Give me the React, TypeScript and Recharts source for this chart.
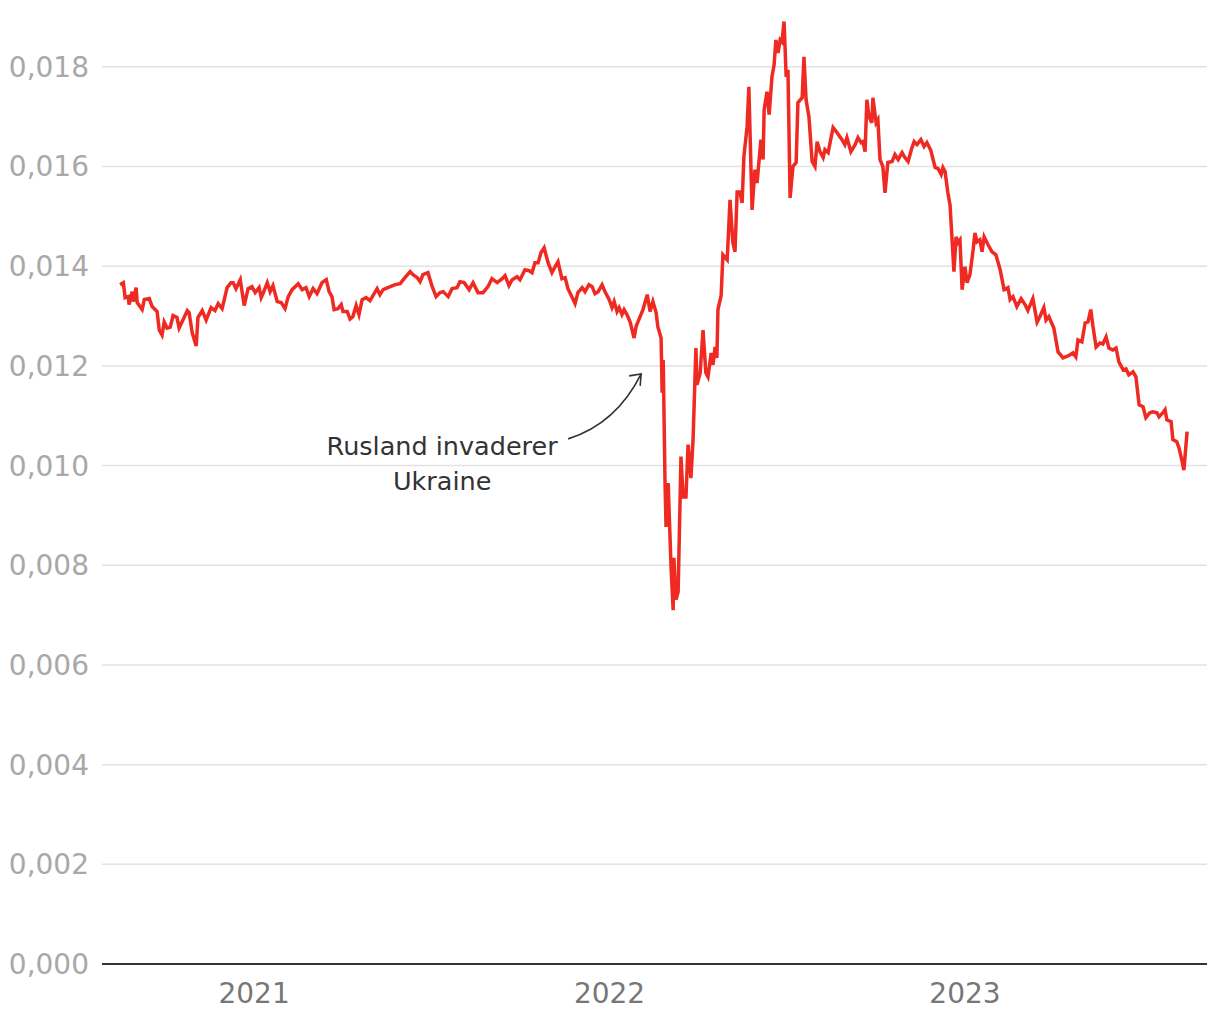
import { LineChart, Line, XAxis, YAxis, CartesianGrid, ReferenceDot } from 'recharts';

// Time in fractional years, exchange rate
const years = [
  2020.623, 2020.632, 2020.637, 2020.646, 2020.648, 2020.657, 2020.66, 2020.668, 2020.671, 2020.685,
  2020.691, 2020.705, 2020.713, 2020.727, 2020.733, 2020.741, 2020.747, 2020.755, 2020.764, 2020.772,
  2020.783, 2020.789, 2020.797, 2020.812, 2020.817, 2020.826, 2020.837, 2020.842, 2020.854, 2020.865,
  2020.879, 2020.89, 2020.899, 2020.91, 2020.924, 2020.935, 2020.941, 2020.949, 2020.961, 2020.972,
  2020.983, 2020.994, 2021.003, 2021.014, 2021.02, 2021.025, 2021.037, 2021.045, 2021.053, 2021.065,
  2021.076, 2021.087, 2021.096, 2021.107, 2021.124, 2021.135, 2021.146, 2021.155, 2021.166, 2021.177,
  2021.191, 2021.203, 2021.211, 2021.219, 2021.225, 2021.236, 2021.245, 2021.25, 2021.262, 2021.27,
  2021.278, 2021.287, 2021.295, 2021.304, 2021.315, 2021.326, 2021.346, 2021.354, 2021.363, 2021.383,
  2021.397, 2021.411, 2021.422, 2021.439, 2021.447, 2021.459, 2021.467, 2021.475, 2021.489, 2021.501,
  2021.512, 2021.523, 2021.532, 2021.546, 2021.557, 2021.571, 2021.579, 2021.591, 2021.605, 2021.616,
  2021.63, 2021.644, 2021.658, 2021.669, 2021.684, 2021.698, 2021.706, 2021.717, 2021.726, 2021.74,
  2021.748, 2021.762, 2021.774, 2021.782, 2021.79, 2021.799, 2021.807, 2021.816, 2021.827, 2021.838,
  2021.847, 2021.855, 2021.866, 2021.875, 2021.883, 2021.895, 2021.903, 2021.911, 2021.923, 2021.931,
  2021.942, 2021.951, 2021.959, 2021.968, 2021.979, 2021.987, 2021.999, 2022.007, 2022.013, 2022.021,
  2022.027, 2022.035, 2022.041, 2022.049, 2022.058, 2022.069, 2022.075, 2022.086, 2022.094, 2022.106,
  2022.114, 2022.122, 2022.131, 2022.136, 2022.145, 2022.148, 2022.151, 2022.156, 2022.159, 2022.165,
  2022.173, 2022.179, 2022.181, 2022.187, 2022.193, 2022.201, 2022.207, 2022.215, 2022.221, 2022.229,
  2022.235, 2022.243, 2022.246, 2022.255, 2022.263, 2022.271, 2022.277, 2022.286, 2022.291, 2022.297,
  2022.302, 2022.305, 2022.314, 2022.319, 2022.331, 2022.339, 2022.347, 2022.353, 2022.359, 2022.367,
  2022.373, 2022.378, 2022.387, 2022.392, 2022.401, 2022.409, 2022.415, 2022.426, 2022.432, 2022.435,
  2022.443, 2022.449, 2022.457, 2022.463, 2022.468, 2022.474, 2022.48, 2022.485, 2022.491, 2022.497,
  2022.502, 2022.508, 2022.516, 2022.525, 2022.53, 2022.542, 2022.547, 2022.553, 2022.561, 2022.57,
  2022.578, 2022.584, 2022.592, 2022.601, 2022.606, 2022.615, 2022.629, 2022.64, 2022.654, 2022.662,
  2022.668, 2022.679, 2022.691, 2022.699, 2022.708, 2022.713, 2022.719, 2022.724, 2022.73, 2022.738,
  2022.741, 2022.75, 2022.755, 2022.761, 2022.769, 2022.775, 2022.783, 2022.795, 2022.803, 2022.812,
  2022.823, 2022.831, 2022.84, 2022.851, 2022.857, 2022.865, 2022.876, 2022.885, 2022.893, 2022.904,
  2022.916, 2022.924, 2022.933, 2022.938, 2022.944, 2022.952, 2022.958, 2022.969, 2022.975, 2022.98,
  2022.986, 2022.992, 2023.0, 2023.006, 2023.014, 2023.023, 2023.028, 2023.034, 2023.042, 2023.048,
  2023.054, 2023.065, 2023.076, 2023.087, 2023.099, 2023.11, 2023.121, 2023.127, 2023.135, 2023.146,
  2023.158, 2023.169, 2023.177, 2023.191, 2023.203, 2023.211, 2023.222, 2023.228, 2023.236, 2023.25,
  2023.262, 2023.276, 2023.29, 2023.304, 2023.312, 2023.318, 2023.329, 2023.338, 2023.346, 2023.354,
  2023.36, 2023.369, 2023.38, 2023.388, 2023.397, 2023.405, 2023.416, 2023.425, 2023.433, 2023.445,
  2023.453, 2023.461, 2023.473, 2023.481, 2023.49, 2023.501, 2023.509, 2023.52, 2023.529, 2023.54,
  2023.546, 2023.557, 2023.563, 2023.568, 2023.58, 2023.585, 2023.596, 2023.602, 2023.61, 2023.616,
  2023.625,
];

const rates = [
  0.01363, 0.01367, 0.01337, 0.01339, 0.01323, 0.01349, 0.01329, 0.01357, 0.01327, 0.01313,
  0.01333, 0.01335, 0.01319, 0.01309, 0.01272, 0.01262, 0.01288, 0.01276, 0.01278, 0.01301,
  0.01297, 0.01276, 0.01288, 0.01311, 0.01307, 0.01266, 0.0124, 0.01297, 0.01311, 0.01292,
  0.01317, 0.01311, 0.01325, 0.01315, 0.01357, 0.01367, 0.01367, 0.01355, 0.01373, 0.01321,
  0.01355, 0.01359, 0.01347, 0.01357, 0.01337, 0.01345, 0.01367, 0.01349, 0.01361, 0.01329,
  0.01327, 0.01315, 0.01339, 0.01353, 0.01365, 0.01353, 0.01357, 0.01339, 0.01355, 0.01345,
  0.01367, 0.01373, 0.01349, 0.01339, 0.01313, 0.01315, 0.01323, 0.01309, 0.01309, 0.01294,
  0.01299, 0.01321, 0.01303, 0.01333, 0.01337, 0.01331, 0.01355, 0.01343, 0.01353, 0.01359,
  0.01363, 0.01365, 0.01375, 0.01389, 0.01383, 0.01377, 0.01369, 0.01383, 0.01387, 0.01359,
  0.01339, 0.01347, 0.01349, 0.01339, 0.01355, 0.01357, 0.01369, 0.01367, 0.01353, 0.01367,
  0.01347, 0.01347, 0.01359, 0.01375, 0.01367, 0.01375, 0.01381, 0.01361, 0.01373, 0.01379,
  0.01373, 0.01393, 0.01391, 0.01387, 0.01407, 0.01407, 0.01427, 0.01437, 0.01407, 0.01387,
  0.01399, 0.01409, 0.01375, 0.01377, 0.01355, 0.01337, 0.01325, 0.01347, 0.01357, 0.01349,
  0.01363, 0.01359, 0.01345, 0.01349, 0.01363, 0.01349, 0.01333, 0.01317, 0.01329, 0.01309,
  0.01317, 0.01303, 0.01313, 0.01303, 0.01288, 0.01256, 0.0128, 0.01299, 0.01313, 0.01343,
  0.01309, 0.01329, 0.01307, 0.01278, 0.01256, 0.01146, 0.01212, 0.00971, 0.00877, 0.00965,
  0.00797, 0.0071, 0.00815, 0.00731, 0.00747, 0.01018, 0.00937, 0.00937, 0.01042, 0.00975,
  0.01052, 0.01236, 0.01162, 0.01186, 0.01272, 0.01186, 0.01178, 0.01226, 0.01202, 0.01238,
  0.01216, 0.01313, 0.01341, 0.01423, 0.01413, 0.01533, 0.01447, 0.01429, 0.01549, 0.01549,
  0.01527, 0.0162, 0.0168, 0.0176, 0.01513, 0.01594, 0.01567, 0.01654, 0.01614, 0.01714,
  0.0175, 0.01704, 0.0178, 0.01804, 0.01854, 0.01828, 0.01854, 0.0185, 0.01891, 0.0178,
  0.01794, 0.01537, 0.016, 0.01608, 0.01728, 0.01738, 0.0182, 0.01734, 0.017, 0.0161,
  0.016, 0.0165, 0.0163, 0.01618, 0.01634, 0.01628, 0.01678, 0.01668, 0.01654, 0.01644,
  0.01658, 0.0163, 0.01644, 0.01658, 0.01648, 0.0165, 0.0163, 0.01734, 0.017, 0.01688,
  0.01738, 0.01688, 0.01694, 0.01614, 0.016, 0.01547, 0.01608, 0.0161, 0.01624, 0.01614,
  0.01628, 0.01618, 0.0161, 0.01638, 0.0165, 0.01644, 0.01654, 0.0164, 0.01648, 0.01632,
  0.01598, 0.01596, 0.01584, 0.01598, 0.0159, 0.01547, 0.01523, 0.01389, 0.01459, 0.01447,
  0.01453, 0.01353, 0.01399, 0.01367, 0.01383, 0.01433, 0.01467, 0.01449, 0.01453, 0.01429,
  0.01459, 0.01443, 0.01429, 0.01423, 0.01393, 0.01353, 0.01357, 0.01333, 0.01339, 0.01319,
  0.01335, 0.01323, 0.01311, 0.01335, 0.01288, 0.01299, 0.01317, 0.01292, 0.01299, 0.01276,
  0.01228, 0.01216, 0.0122, 0.01226, 0.01218, 0.01252, 0.01248, 0.01286, 0.01288, 0.01313,
  0.0128, 0.01238, 0.01246, 0.01244, 0.01258, 0.01236, 0.01232, 0.01236, 0.01208, 0.01192,
  0.01194, 0.01182, 0.01188, 0.01178, 0.01122, 0.01118, 0.01096, 0.01106, 0.01108, 0.01106,
  0.01098, 0.01106, 0.01112, 0.01092, 0.01088, 0.01052, 0.01048, 0.01036, 0.01012, 0.00991,
  0.01068,
];

const yTicks = [0, 0.002, 0.004, 0.006, 0.008, 0.01, 0.012, 0.014, 0.016, 0.018];
const xTicks = [2021, 2022, 2023];

const annotationLines = ['Rusland invaderer', 'Ukraine'];
// where the annotation arrow points (invasion, late February 2022)
const invasionPoint = { t: 2022.089, rate: 0.01184 };

const FONT = "'DejaVu Sans', sans-serif";

const data = years.map((t, i) => ({ t, rate: rates[i] }));

function AnnotationShape(props: { cx?: number; cy?: number }) {
  const cx = props.cx ?? 0;
  const cy = props.cy ?? 0;
  const sx = cx - 73;
  const sy = cy + 65;
  return (
    <g>
      <path
        d={`M${sx},${sy} Q${cx - 25},${cy + 50} ${cx},${cy}`}
        fill="none"
        stroke="#333"
        strokeWidth={1.6}
      />
      <path
        d={`M${cx - 12},${cy + 2} L${cx},${cy} L${cx - 1},${cy + 12}`}
        fill="none"
        stroke="#333"
        strokeWidth={1.6}
      />
      {annotationLines.map((line, i) => (
        <text
          key={line}
          x={cx - 199}
          y={cy + 81 + i * 35}
          textAnchor="middle"
          fontFamily={FONT}
          fontSize={25.5}
          fill="#333"
        >
          {line}
        </text>
      ))}
    </g>
  );
}

export default function App() {
  return (
    <div style={{ position: 'absolute', left: 0, top: 0, background: '#fff', fontFamily: FONT }}>
      <LineChart
        width={1220}
        height={1020}
        data={data}
        margin={{ top: 17, right: 13, bottom: 0, left: 0 }}
      >
        <CartesianGrid vertical={false} horizontalValues={yTicks} stroke="#e2e2e2" strokeWidth={1.5} />
        <XAxis
          dataKey="t"
          type="number"
          domain={[2020.572, 2023.681]}
          ticks={xTicks}
          allowDataOverflow
          height={56}
          tickLine={false}
          tickSize={0}
          tickMargin={19}
          axisLine={{ stroke: '#333', strokeWidth: 2 }}
          tick={{ fill: '#777', fontSize: 28, fontFamily: FONT }}
        />
        <YAxis
          type="number"
          domain={[0, 0.019]}
          ticks={yTicks}
          width={102}
          axisLine={false}
          tickLine={false}
          tickSize={0}
          tickMargin={13}
          tick={{ fill: '#a8a8a8', fontSize: 28, fontFamily: FONT }}
          tickFormatter={(v: number) => v.toFixed(3).replace('.', ',')}
        />
        <Line
          type="linear"
          dataKey="rate"
          stroke="#ee2a22"
          strokeWidth={3.5}
          dot={false}
          isAnimationActive={false}
        />
        <ReferenceDot
          x={invasionPoint.t}
          y={invasionPoint.rate}
          r={0}
          shape={(p: { cx?: number; cy?: number }) => <AnnotationShape cx={p.cx} cy={p.cy} />}
        />
      </LineChart>
    </div>
  );
}
